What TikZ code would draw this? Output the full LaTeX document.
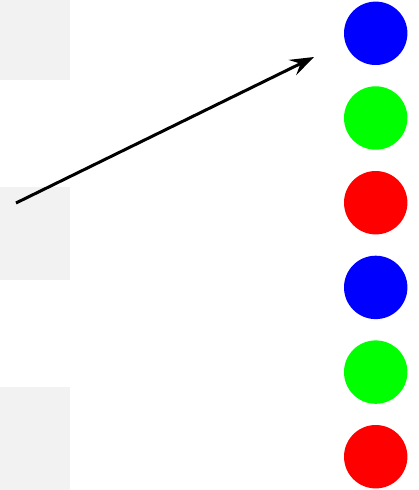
\documentclass[tikz,border=0pt]{standalone}
\usepackage{tikz}
\usetikzlibrary{positioning,arrows.meta}

\begin{document}
\begin{tikzpicture}[
    x=1pt, y=-1pt,
    slot/.style={fill=gray!10, inner sep=0pt, minimum width=70pt},
    dot/.style={circle, inner sep=0pt, minimum size=63.4pt},
    pointer/.style={-{Stealth[length=24pt, width=17pt, inset=9pt]}, line width=3pt}
]
\clip (0,0) rectangle (418,490);

% grey slots on the left
\node[slot, minimum height=93pt] (slotA) at (35,33.5) {};
\node[slot, minimum height=93pt] (slotB) at (35,233.5) {};
\node[slot, minimum height=113pt] (slotC) at (35,443.5) {};

% coloured dots on the right
\node[dot, fill=blue] (dotA) at (375.7,33.3) {};
\node[dot, fill=green] (dotB) at (375.7,118) {};
\node[dot, fill=red] (dotC) at (375.7,202.7) {};
\node[dot, fill=blue] (dotD) at (375.7,287.4) {};
\node[dot, fill=green] (dotE) at (375.7,372.1) {};
\node[dot, fill=red] (dotF) at (375.7,456.7) {};

% arrow
\coordinate (from) at (16,203);
\coordinate (to) at (314,57);
\draw[pointer] (from) -- (to);

\end{tikzpicture}
\end{document}
